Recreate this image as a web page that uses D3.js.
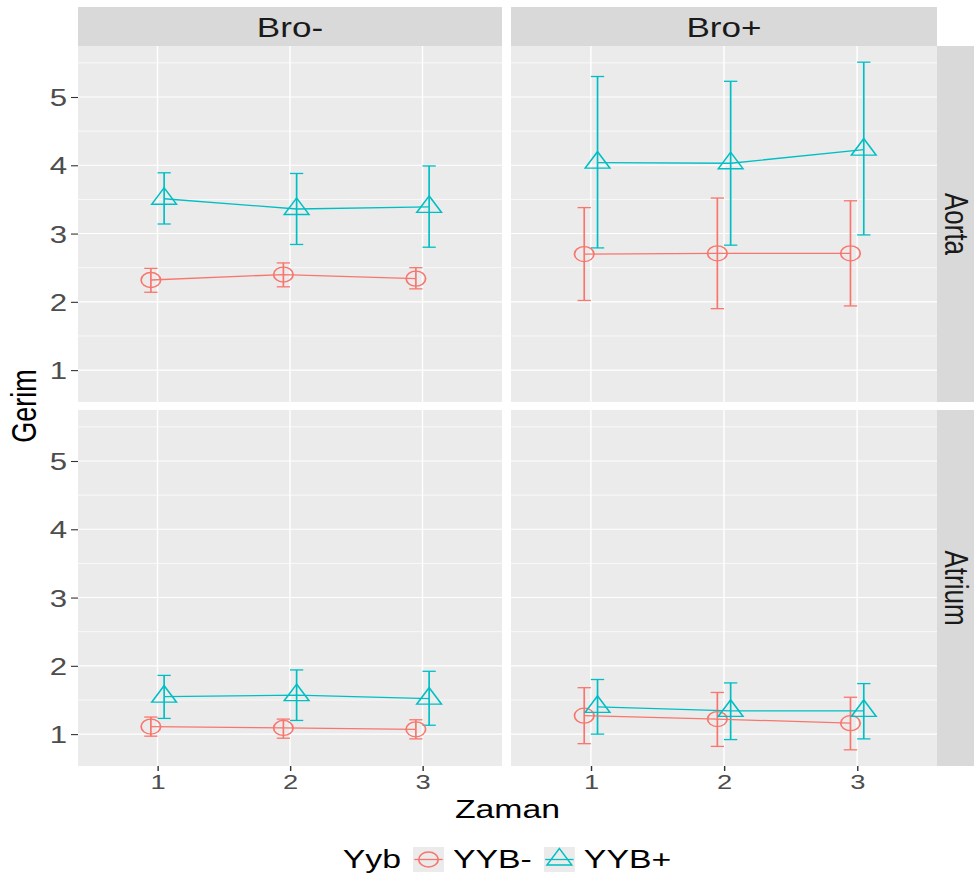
<!DOCTYPE html>
<html>
<head>
<meta charset="utf-8">
<script src="https://cdn.jsdelivr.net/npm/d3@7"></script>
<style>
html,body{margin:0;padding:0;background:#fff;}
svg{display:block;}
text{font-family:"Liberation Sans",Arial,Helvetica,sans-serif;}
</style>
</head>
<body>
<script>
// ---------- data ----------
const colFacets = ["Bro-", "Bro+"];
const rowFacets = ["Aorta", "Atrium"];
const zaman = ["1", "2", "3"];
const groups = ["YYB-", "YYB+"];
const groupColors = ["#F8766D", "#00BFC4"];
// panel order: Aorta/Bro-, Aorta/Bro+, Atrium/Bro-, Atrium/Bro+
const yybMinusMean = [[2.32, 2.40, 2.34], [2.70, 2.71, 2.71], [1.11, 1.09, 1.07], [1.27, 1.22, 1.16]];
const yybMinusLow  = [[2.14, 2.22, 2.19], [2.02, 1.90, 1.94], [0.97, 0.94, 0.93], [0.86, 0.82, 0.77]];
const yybMinusHigh = [[2.49, 2.57, 2.50], [3.38, 3.52, 3.48], [1.25, 1.22, 1.21], [1.68, 1.61, 1.54]];
const yybPlusMean  = [[3.51, 3.36, 3.39], [4.04, 4.03, 4.23], [1.55, 1.57, 1.52], [1.40, 1.34, 1.34]];
const yybPlusLow   = [[3.14, 2.84, 2.80], [2.79, 2.83, 2.98], [1.23, 1.20, 1.13], [1.00, 0.92, 0.93]];
const yybPlusHigh  = [[3.89, 3.88, 3.99], [5.30, 5.23, 5.51], [1.86, 1.94, 1.92], [1.80, 1.75, 1.74]];
const yTicks = [1, 2, 3, 4, 5];
const yMinorTicks = [0.5, 1.5, 2.5, 3.5, 4.5, 5.5];

const means = [yybMinusMean, yybPlusMean];
const lows = [yybMinusLow, yybPlusLow];
const highs = [yybMinusHigh, yybPlusHigh];

// ---------- layout (screen px; drawn in a horizontally stretched group) ----------
const W = 974, H = 876, S = 1.3;
const colX = [[78, 502], [511, 937]];
const rowY = [[46, 402], [410, 766]];
const stripTop = [7, 46];
const stripRight = [937, 990];
const markW = 1.3;

const svg = d3.select("body").append("svg").attr("width", W).attr("height", H);
svg.append("rect").attr("width", W).attr("height", H).attr("fill", "#fff");
const g = svg.append("g").attr("transform", `scale(${S},1)`);
const sx = v => v / S;

const allV = [].concat(...lows.flat(), ...highs.flat());
const vMin = d3.min(allV), vMax = d3.max(allV), pad = 0.05 * (vMax - vMin);

const xScales = colX.map(([a, b]) => d3.scalePoint().domain(zaman).range([sx(a), sx(b)]).padding(0.6));
const yScales = rowY.map(([t, b]) => d3.scaleLinear().domain([vMin - pad, vMax + pad]).range([b, t]));
const dodge = [-0.05, 0.05];

const rCircle = 7.5, rTri = 11;
function triPath(r) {
  const xc = r * Math.sqrt(3) / 2, yc = r / 2;
  return `M0,${-r}L${xc},${yc}L${-xc},${yc}Z`;
}
function drawMarker(sel, gi, x, y) {
  if (gi === 0) {
    sel.append("circle").attr("cx", x).attr("cy", y).attr("r", rCircle)
      .attr("fill", "none").attr("stroke", groupColors[gi]).attr("stroke-width", markW);
  } else {
    sel.append("path").attr("d", triPath(rTri)).attr("transform", `translate(${x},${y})`)
      .attr("fill", "none").attr("stroke", groupColors[gi]).attr("stroke-width", markW);
  }
}

rowFacets.forEach((rf, r) => {
  colFacets.forEach((cf, c) => {
    const p = r * 2 + c;
    const xs = xScales[c], ys = yScales[r];
    const [x0, x1] = colX[c].map(sx);
    const [y0, y1] = rowY[r];
    const pg = g.append("g");
    pg.append("rect").attr("x", x0).attr("y", y0).attr("width", x1 - x0).attr("height", y1 - y0).attr("fill", "#EBEBEB");
    const [d0, d1] = ys.domain();
    yMinorTicks.filter(t => t > d0 && t < d1).forEach(t => {
      pg.append("line").attr("x1", x0).attr("x2", x1).attr("y1", ys(t)).attr("y2", ys(t))
        .attr("stroke", "#fff").attr("stroke-width", 0.6);
    });
    yTicks.forEach(t => {
      pg.append("line").attr("x1", x0).attr("x2", x1).attr("y1", ys(t)).attr("y2", ys(t))
        .attr("stroke", "#fff").attr("stroke-width", 1.1);
    });
    zaman.forEach(z => {
      pg.append("line").attr("x1", xs(z)).attr("x2", xs(z)).attr("y1", y0).attr("y2", y1)
        .attr("stroke", "#fff").attr("stroke-width", 1.1);
    });
    const step = xs.step();
    // error bars
    groups.forEach((gr, gi) => {
      zaman.forEach((z, i) => {
        const cx = xs(z) + dodge[gi] * step;
        const hw = 0.05 * step;
        const lo = ys(lows[gi][p][i]), hi = ys(highs[gi][p][i]);
        const eg = pg.append("g").attr("stroke", groupColors[gi]).attr("stroke-width", markW).attr("fill", "none");
        eg.append("line").attr("x1", cx).attr("x2", cx).attr("y1", lo).attr("y2", hi);
        eg.append("line").attr("x1", cx - hw).attr("x2", cx + hw).attr("y1", lo).attr("y2", lo);
        eg.append("line").attr("x1", cx - hw).attr("x2", cx + hw).attr("y1", hi).attr("y2", hi);
      });
    });
    // lines
    groups.forEach((gr, gi) => {
      const line = d3.line().x((d, i) => xs(zaman[i]) + dodge[gi] * step).y(d => ys(d));
      pg.append("path").attr("d", line(means[gi][p])).attr("fill", "none")
        .attr("stroke", groupColors[gi]).attr("stroke-width", markW);
    });
    // points
    groups.forEach((gr, gi) => {
      zaman.forEach((z, i) => {
        drawMarker(pg, gi, xs(z) + dodge[gi] * step, ys(means[gi][p][i]));
      });
    });
  });
});

// strips top
colFacets.forEach((cf, c) => {
  const [x0, x1] = colX[c].map(sx);
  g.append("rect").attr("x", x0).attr("y", stripTop[0]).attr("width", x1 - x0)
    .attr("height", stripTop[1] - stripTop[0]).attr("fill", "#D9D9D9");
  g.append("text").attr("x", (x0 + x1) / 2).attr("y", 37).attr("text-anchor", "middle")
    .attr("font-size", 27).attr("fill", "#1A1A1A").text(cf);
});
// strips right
rowFacets.forEach((rf, r) => {
  const [y0, y1] = rowY[r];
  const [a, b] = stripRight.map(sx);
  g.append("rect").attr("x", a).attr("y", y0).attr("width", b - a).attr("height", y1 - y0).attr("fill", "#D9D9D9");
  const cx = sx(945), cy = (y0 + y1) / 2;
  g.append("text").attr("transform", `translate(${cx},${cy}) rotate(90)`).attr("text-anchor", "middle")
    .attr("font-size", 26).attr("fill", "#1A1A1A").text(rf);
});

// y axes (left column)
rowFacets.forEach((rf, r) => {
  const ax = d3.axisLeft(yScales[r]).tickValues(yTicks).tickSize(sx(7)).tickPadding(sx(4)).tickFormat(d3.format("d"));
  const ag = g.append("g").attr("transform", `translate(${sx(78)},0)`).call(ax);
  ag.select(".domain").remove();
  ag.selectAll(".tick line").attr("stroke", "#333333").attr("stroke-width", 1.1);
  ag.selectAll(".tick text").attr("fill", "#4D4D4D").attr("font-size", 24)
    .attr("font-family", '"Liberation Sans",Arial,sans-serif').attr("dy", "0.36em");
});
// x axes (bottom row)
colFacets.forEach((cf, c) => {
  const ax = d3.axisBottom(xScales[c]).tickSize(5).tickPadding(3);
  const ag = g.append("g").attr("transform", `translate(0,${rowY[1][1]})`).call(ax);
  ag.select(".domain").remove();
  ag.selectAll(".tick line").attr("stroke", "#333333").attr("stroke-width", 1.1);
  ag.selectAll(".tick text").attr("fill", "#4D4D4D").attr("font-size", 21)
    .attr("font-family", '"Liberation Sans",Arial,sans-serif').attr("dy", "0.72em");
});

// axis titles
g.append("text").attr("x", sx((78 + 937) / 2)).attr("y", 818).attr("text-anchor", "middle")
  .attr("font-size", 26).attr("fill", "#000").text("Zaman");
g.append("text").attr("transform", `translate(${sx(36)},${(46 + 766) / 2}) rotate(-90)`)
  .attr("text-anchor", "middle").attr("font-size", 27).attr("fill", "#000").text("Gerim");

// legend
const lg = g.append("g");
const legY = 868, keyW = sx(31), keyH = 25, keyTop = 847;
const title = lg.append("text").attr("x", 0).attr("y", legY).attr("font-size", 26).attr("fill", "#000").text("Yyb");
let cur = title.node().getComputedTextLength() + sx(12);
groups.forEach((gr, gi) => {
  lg.append("rect").attr("x", cur).attr("y", keyTop).attr("width", keyW).attr("height", keyH).attr("fill", "#EBEBEB");
  const kcx = cur + keyW / 2, kcy = keyTop + keyH / 2;
  lg.append("line").attr("x1", cur + 1).attr("x2", cur + keyW - 1).attr("y1", kcy).attr("y2", kcy)
    .attr("stroke", groupColors[gi]).attr("stroke-width", markW);
  drawMarker(lg, gi, kcx, kcy);
  cur += keyW + sx(9);
  const t = lg.append("text").attr("x", cur).attr("y", legY).attr("font-size", 26).attr("fill", "#000").text(gr);
  cur += t.node().getComputedTextLength() + sx(12);
});
const total = cur - sx(12);
lg.attr("transform", `translate(${sx(507) - total / 2},0)`);
</script>
</body>
</html>
